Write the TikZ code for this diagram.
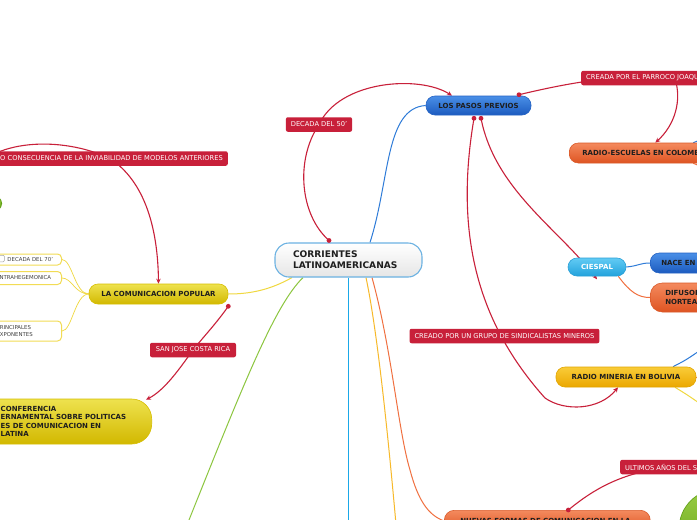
\documentclass[tikz,border=0pt]{standalone}
\usepackage{fontspec}
\setmainfont{DejaVu Sans}
\usetikzlibrary{arrows.meta}
\definecolor{lred}{HTML}{C8203A}
\definecolor{blueT}{HTML}{4A8FE7}\definecolor{blueB}{HTML}{1C5BBF}\definecolor{blueD}{HTML}{2563C4}
\definecolor{orT}{HTML}{F48A5E}\definecolor{orB}{HTML}{DE5422}\definecolor{orD}{HTML}{DA5A2A}
\definecolor{cyT}{HTML}{62CBF4}\definecolor{cyB}{HTML}{22A2DC}\definecolor{cyD}{HTML}{2A9FD6}
\definecolor{gdT}{HTML}{F9CC38}\definecolor{gdB}{HTML}{EBA700}\definecolor{gdD}{HTML}{E2A500}
\definecolor{yeT}{HTML}{EEE24E}\definecolor{yeB}{HTML}{D2B800}\definecolor{yeD}{HTML}{D6BE00}
\definecolor{grT}{HTML}{9ACD45}\definecolor{grB}{HTML}{5E9E12}
\definecolor{centB}{HTML}{6CB2E2}
\definecolor{txt}{HTML}{1E1E1E}
\definecolor{cBlue}{HTML}{2E7BD8}\definecolor{cYel}{HTML}{F0D840}\definecolor{cGreen}{HTML}{8CC63F}
\definecolor{cCyan}{HTML}{1AA8E8}\definecolor{cGold}{HTML}{F7B92A}\definecolor{cOr}{HTML}{F07040}
\definecolor{ybord}{HTML}{F2DC55}
\pgfdeclarelayer{bg}\pgfdeclarelayer{fg}\pgfsetlayers{bg,main,fg}
\tikzset{
 mmnode/.style={rounded corners=9pt, inner sep=0pt, font=\fontsize{7}{8.5}\selectfont\bfseries, text=txt, line width=0.6pt},
 bluen/.style={mmnode, top color=blueT, bottom color=blueB, draw=blueD},
 orangen/.style={mmnode, top color=orT, bottom color=orB, draw=orD},
 cyann/.style={mmnode, top color=cyT, bottom color=cyB, draw=cyD},
 goldn/.style={mmnode, top color=gdT, bottom color=gdB, draw=gdD},
 yellown/.style={mmnode, top color=yeT, bottom color=yeB, draw=yeD},
 greenn/.style={mmnode, top color=grT, bottom color=grB, draw=grB},
 rlabel/.style={rounded corners=2pt, fill=lred, text=white, font=\fontsize{6.7}{7.5}\selectfont, inner xsep=5pt, inner ysep=0pt, minimum height=14.5pt},
 lbox/.style={draw=ybord, fill=white, line width=1pt, rounded corners=4pt, font=\fontsize{5.4}{6.6}\selectfont, text=black!75, inner xsep=4pt, inner ysep=0pt, align=left},
 redc/.style={draw=lred, line width=1.1pt},
 arr/.style={-{Stealth[length=5pt,width=4.5pt]}},
 blueline/.style={draw=cBlue, line width=1pt},
 yline/.style={draw=cYel, line width=1pt},
 ythin/.style={draw=cYel, line width=0.7pt},
 gline/.style={draw=cGreen, line width=1pt},
 cline/.style={draw=cCyan, line width=1.2pt},
 goldline/.style={draw=cGold, line width=1pt},
 oline/.style={draw=cOr, line width=1pt},
 dot/.style={fill=lred},
}
\begin{document}
\begin{tikzpicture}[x=1pt,y=-1pt]
\useasboundingbox (0,0) rectangle (697,520);

% ---- nodes ----
\node[rounded corners=14pt, inner ysep=0pt, minimum width=147pt, minimum height=34pt, text width=111pt, inner xsep=18pt, align=left,
      top color=white, bottom color=gray!20, draw=centB, line width=1.1pt, text=txt,
      font=\fontsize{9.1}{11}\selectfont\bfseries] (cent) at (348.5,260) {CORRIENTES\\LATINOAMERICANAS};

\node[bluen, minimum width=105pt, minimum height=19pt] (lpp) at (478.5,105.5) {LOS PASOS PREVIOS};
\node[orangen, anchor=west, minimum height=20pt, text width=150pt, inner xsep=13pt, align=left] (resc) at (569,153) {RADIO-ESCUELAS EN COLOMBIA};
\node[cyann, minimum width=58pt, minimum height=18pt, text=white] (ciespal) at (597,267) {CIESPAL};
\node[bluen, anchor=west, minimum height=20pt, text width=80pt, inner xsep=11pt, align=left] (nace) at (650,263) {NACE EN};
\node[orangen, anchor=west, minimum height=29pt, text width=80pt, inner xsep=15pt, align=left, rounded corners=12pt,
      font=\fontsize{7}{9}\selectfont\bfseries] (difu) at (650,297.5) {DIFUSOR\\NORTEA};
\node[goldn, minimum width=140pt, minimum height=20pt] (rmb) at (626,377) {RADIO MINERIA EN BOLIVIA};
\node[yellown, minimum width=139pt, minimum height=20pt] (lcp) at (158.5,294) {LA COMUNICACION POPULAR};
\node[yellown, anchor=east, rounded corners=20pt, minimum height=45pt, text width=127pt, inner xsep=24pt, align=left] (conf) at (152,421.5)
  {CONFERENCIA\\ERNAMENTAL SOBRE POLITICAS\\ES DE COMUNICACION EN\\LATINA};
\node[greenn, anchor=east, minimum width=40pt, minimum height=17pt] (gleft) at (2,203.5) {};
\node[greenn, circle, minimum size=80pt] (gbr) at (719,529) {};
\node[orangen, anchor=north west, minimum width=206pt, text width=174pt, inner xsep=16pt, inner ysep=8pt, align=left, rounded corners=10pt] (nf) at (444,510)
  {NUEVAS FORMAS DE COMUNICACION EN LA};

% left boxes
\node[lbox, anchor=east, minimum height=11pt, text width=59pt] (b70) at (62,259.5) {\hspace*{9pt}DECADA DEL 70'};
\node[draw=gray!70, fill=white, rounded corners=1pt, minimum size=6.5pt, inner sep=0pt, line width=0.5pt] (chk) at (1,258.5) {};
\node[lbox, anchor=east, minimum height=13pt, text width=66pt] (bch) at (62,278) {CONTRAHEGEMONICA};
\node[lbox, anchor=east, minimum height=20pt, text width=61pt] (bpe) at (62,331) {PRINCIPALES\\EXPONENTES};

% labels
\node[rlabel, minimum width=64pt] (l50) at (319,124.5) {DECADA DEL 50'};
\node[rlabel, anchor=west] (lcre) at (581,78) {CREADA POR EL PARROCO JOAQUIN SALCEDO};
\node[rlabel, anchor=east] (lcons) at (228,158.5) {COMO CONSECUENCIA DE LA INVIABILIDAD DE MODELOS ANTERIORES};
\node[rlabel, minimum width=86pt] (lsj) at (193,350) {SAN JOSE COSTA RICA};
\node[rlabel, minimum width=189pt] (lmin) at (504.5,336) {CREADO POR UN GRUPO DE SINDICALISTAS MINEROS};
\node[rlabel, anchor=west] (lult) at (620,467) {ULTIMOS AÑOS DEL SIGLO XX};

% free ends
\coordinate (gend) at (185,530);
\coordinate (cbot) at (348.5,530);
\coordinate (gdend) at (396.5,530);
\coordinate (ccs) at (-30,175);
\coordinate (kcre) at (675,79);
\coordinate (rescb) at (712,134);
\coordinate (resco) at (712,172);
\coordinate (rmbb) at (702,349);
\coordinate (rmby) at (702,405);
\coordinate (rmbo) at (705,377);
\coordinate (ultend) at (720,466);

% ---- connectors ----
\begin{pgfonlayer}{bg}
\fill[white] (0,0) rectangle (697,520);
\draw[redc, arr] ([xshift=-19.5pt,yshift=2pt]cent.north) .. controls (300,215) and (295,160) .. (l50.center)
   .. controls (340,80) and (420,75) .. ([xshift=-26.5pt]lpp.north);
\draw[blueline] ([xshift=21.5pt]cent.north) .. controls (390,180) and (385,108) .. (lpp.west);
\draw[yline] ([xshift=-56.5pt]cent.south) .. controls (270,290) and (250,294) .. (lcp.east);
\draw[gline] ([xshift=-45.5pt]cent.south) .. controls (275,305) and (245,380) .. (gend);
\draw[cline] (cent.south) -- (cbot);
\draw[goldline] ([xshift=17.5pt]cent.south) .. controls (375,320) and (385,400) .. (gdend);
\draw[oline] ([xshift=23.5pt]cent.south) .. controls (392,350) and (398,430) .. (410,470) .. controls (418,500) and (428,515) .. (nf.west);

\draw[redc, arr] ([xshift=40.5pt,yshift=1pt]lpp.north) .. controls (560,85) and (620,72) .. (kcre)
   .. controls (682,100) and (675,125) .. ([xshift=-2pt]resc.north);
\draw[redc, arr] (ccs) .. controls (-10,140) and (60,135) .. ([xshift=-118pt]lcons.east)
   .. controls (150,185) and (158,240) .. (lcp.north);
\draw[redc, arr] ([yshift=-2pt]lcp.south east) .. controls (215,325) and (205,335) .. (lsj.center)
   .. controls (180,368) and (165,390) .. ([xshift=-6pt,yshift=-1pt]conf.north east);
\draw[redc, arr] ([xshift=-4.5pt,yshift=-3pt]lpp.south) .. controls (455,230) and (475,320) .. (545,398)
   .. controls (565,412) and (600,410) .. ([xshift=-8pt]rmb.south);
\draw[redc, arr] ([xshift=2.5pt,yshift=-3pt]lpp.south) .. controls (495,190) and (560,230) .. ([yshift=-3pt]ciespal.south);
\draw[redc] ([xshift=21pt]nf.north) .. controls (595,488) and (620,475) .. (660,468) -- (ultend);

\draw[blueline] (ciespal.east) .. controls (638,266) and (640,263) .. (nace.west);
\draw[oline] ([xshift=-8pt]ciespal.south east) .. controls (630,292) and (638,297.5) .. (difu.west);
\draw[blueline] ([xshift=36pt]resc.north) .. controls (700,140) .. (rescb);
\draw[oline] ([xshift=36pt]resc.south) .. controls (700,166) .. (resco);
\draw[blueline] ([xshift=47pt]rmb.north) .. controls (686,360) .. (rmbb);
\draw[yline] ([xshift=49pt]rmb.south) .. controls (686,394) .. (rmby);
\draw[oline] (rmb.east) -- (rmbo);

\draw[ythin] (lcp.west) .. controls (75,294) and (72,259.5) .. (b70.east);
\draw[ythin] (lcp.west) .. controls (75,294) and (72,278) .. (bch.east);
\draw[ythin] (lcp.west) .. controls (75,294) and (72,331) .. (bpe.east);
\end{pgfonlayer}

\begin{pgfonlayer}{fg}
\fill[dot] ([xshift=-19.5pt,yshift=2pt]cent.north) circle (2.4pt);
\fill[dot] ([xshift=40.5pt,yshift=1pt]lpp.north) circle (2.4pt);
\fill[dot] ([xshift=-4.5pt,yshift=-3pt]lpp.south) circle (2.4pt);
\fill[dot] ([xshift=2.5pt,yshift=-3pt]lpp.south) circle (2.4pt);
\fill[dot] ([yshift=-2pt]lcp.south east) circle (2.4pt);
\fill[dot] ([xshift=21pt]nf.north) circle (2.4pt);
\end{pgfonlayer}
\end{tikzpicture}
\end{document}
